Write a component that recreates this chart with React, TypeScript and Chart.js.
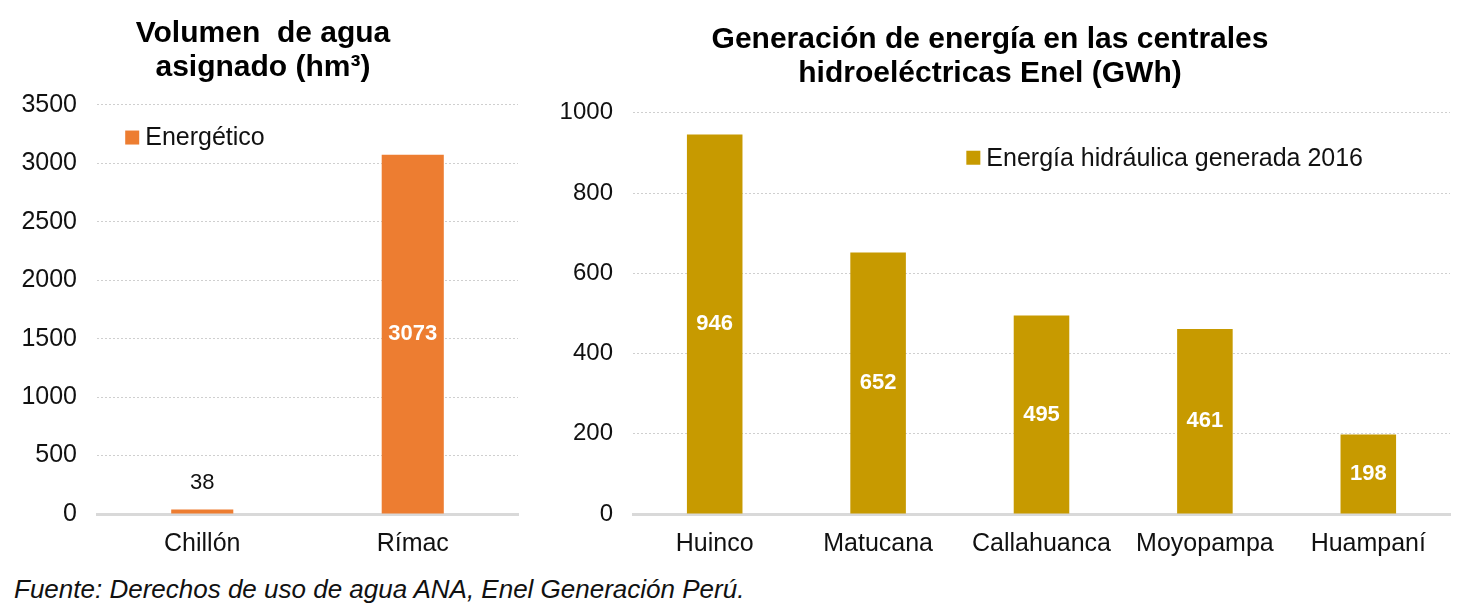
import React, { useEffect, useRef } from "react";
import { Chart, registerables } from "chart.js";

Chart.register(...registerables);

const leftCategories = ["Chillón", "Rímac"];
const leftValues = [38, 3073];
const leftLegend = "Energético";
const leftTitle = ["Volumen  de agua", "asignado (hm³)"];

const rightCategories = ["Huinco", "Matucana", "Callahuanca", "Moyopampa", "Huampaní"];
const rightValues = [946, 652, 495, 461, 198];
const rightLegend = "Energía hidráulica generada 2016";
const rightTitle = ["Generación de energía en las centrales", "hidroeléctricas Enel (GWh)"];

const FONT = "'Liberation Sans', Arial, Helvetica, sans-serif";
const ORANGE = "#ED7D31";
const GOLD = "#C79A00";

type LabelCfg = { inside: boolean[]; color: string[]; bold: boolean[] };

function makeLabelPlugin(cfg: LabelCfg) {
  return {
    id: "valueLabels",
    afterDatasetsDraw(chart: any) {
      const ctx = chart.ctx;
      const meta = chart.getDatasetMeta(0);
      const data = chart.data.datasets[0].data as number[];
      ctx.save();
      meta.data.forEach((bar: any, i: number) => {
        ctx.font = `${cfg.bold[i] ? "bold " : ""}22px ${FONT}`;
        ctx.fillStyle = cfg.color[i];
        ctx.textAlign = "center";
        ctx.textBaseline = "middle";
        const y = cfg.inside[i] ? (bar.y + bar.base) / 2 : bar.y - 27;
        ctx.fillText(String(data[i]), bar.x, y);
      });
      ctx.restore();
    },
  };
}

function makeLegendPlugin(text: string, color: string, fx: number, fy: number) {
  return {
    id: "innerLegend",
    afterDraw(chart: any) {
      const { ctx, chartArea } = chart;
      const x = chartArea.left + (chartArea.right - chartArea.left) * fx;
      const y = chartArea.top + (chartArea.bottom - chartArea.top) * fy;
      ctx.save();
      ctx.fillStyle = color;
      ctx.fillRect(x, y - 7, 14, 14);
      ctx.fillStyle = "#111";
      ctx.font = `25px ${FONT}`;
      ctx.textAlign = "left";
      ctx.textBaseline = "middle";
      ctx.fillText(text, x + 20, y + 1);
      ctx.restore();
    },
  };
}

function BarChart(props: {
  categories: string[];
  values: number[];
  color: string;
  max: number;
  step: number;
  title: string[];
  titlePadTop: number;
  titlePadBottom: number;
  yWidth: number;
  yFont: number;
  padRight: number;
  barPct: number;
  labelCfg: LabelCfg;
  legend: string;
  legendFx: number;
  legendFy: number;
}) {
  const ref = useRef<HTMLCanvasElement>(null);
  useEffect(() => {
    if (!ref.current) return;
    const chart = new Chart(ref.current, {
      type: "bar",
      data: {
        labels: props.categories,
        datasets: [
          {
            label: props.legend,
            data: props.values,
            backgroundColor: props.color,
            categoryPercentage: 1,
            barPercentage: props.barPct,
          },
        ],
      },
      options: {
        animation: false,
        responsive: true,
        maintainAspectRatio: false,
        layout: { padding: { left: 0, right: props.padRight, top: 0, bottom: 0 } },
        plugins: {
          legend: { display: false },
          tooltip: { enabled: false },
          title: {
            display: true,
            text: props.title,
            color: "#000",
            font: { family: FONT, size: 30, weight: "bold", lineHeight: 1.13 },
            padding: { top: props.titlePadTop, bottom: props.titlePadBottom },
          },
        },
        scales: {
          x: {
            grid: { display: false },
            border: { display: true, color: "#D9D9D9", width: 3 },
            ticks: { color: "#111", font: { family: FONT, size: 25 }, padding: 7 },
          },
          y: {
            min: 0,
            max: props.max,
            ticks: {
              stepSize: props.step,
              color: "#111",
              font: { family: FONT, size: props.yFont },
              padding: 20,
              callback: (v: any) => String(v),
            },
            grid: { color: "#CFCFCF", lineWidth: 1, drawTicks: false },
            border: { display: false, dash: [2, 2] },
            afterFit: (scale: any) => {
              scale.width = props.yWidth;
            },
          },
        },
      },
      plugins: [
        makeLabelPlugin(props.labelCfg),
        makeLegendPlugin(props.legend, props.color, props.legendFx, props.legendFy),
      ],
    });
    return () => chart.destroy();
  }, []);
  return <canvas ref={ref} />;
}

export default function App() {
  return (
    <div style={{ position: "relative", width: 1449, height: 600 }}>
      <div style={{ position: "absolute", left: 0, top: 0, width: 518, height: 558 }}>
        <BarChart
          categories={leftCategories}
          values={leftValues}
          color={ORANGE}
          max={3500}
          step={500}
          title={leftTitle}
          titlePadTop={9}
          titlePadBottom={20}
          yWidth={89}
          yFont={25}
          padRight={8}
          barPct={0.295}
          labelCfg={{ inside: [false, true], color: ["#111", "#fff"], bold: [false, true] }}
          legend={leftLegend}
          legendFx={0.067}
          legendFy={0.08}
        />
      </div>
      <div style={{ position: "absolute", left: 522, top: 0, width: 930, height: 558 }}>
        <BarChart
          categories={rightCategories}
          values={rightValues}
          color={GOLD}
          max={1000}
          step={200}
          title={rightTitle}
          titlePadTop={15}
          titlePadBottom={22}
          yWidth={103}
          yFont={24}
          padRight={10}
          barPct={0.34}
          labelCfg={{
            inside: [true, true, true, true, true],
            color: ["#fff", "#fff", "#fff", "#fff", "#fff"],
            bold: [true, true, true, true, true],
          }}
          legend={rightLegend}
          legendFx={0.408}
          legendFy={0.112}
        />
      </div>
      <div
        style={{
          position: "absolute",
          left: 6,
          top: 566,
          fontFamily: FONT,
          fontStyle: "italic",
          fontSize: 26,
          color: "#111",
          whiteSpace: "nowrap",
        }}
      >
        Fuente: Derechos de uso de agua ANA, Enel Generación Perú.
      </div>
    </div>
  );
}
